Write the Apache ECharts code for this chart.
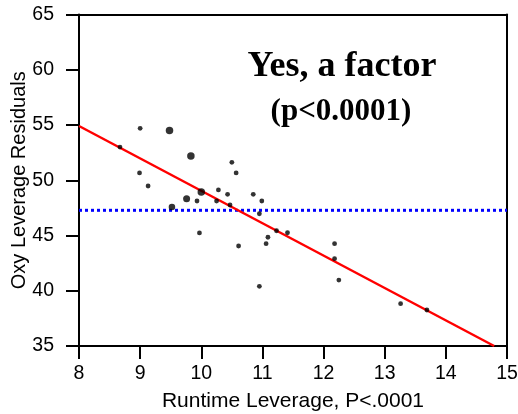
<!DOCTYPE html>
<html>
<head>
<meta charset="utf-8">
<script src="https://cdn.jsdelivr.net/npm/echarts@6/dist/echarts.min.js"></script>
<style>html,body{margin:0;padding:0;background:#fff}#c{width:518px;height:414px}</style>
</head>
<body>
<div id="c"></div>
<script>
const runtimeLev = [8.67,9.0,9.48,9.83,8.99,9.13,10.0,10.28,9.76,9.93,10.25,9.52,9.97,10.50,10.57,10.43,10.47,10.85,10.99,10.95,10.61,11.23,11.41,11.09,11.06,10.95,12.18,12.18,12.25,13.26,13.69];
const oxyLev = [53.0,54.7,54.5,52.2,50.66,49.48,48.94,49.12,48.33,48.12,48.12,47.58,45.23,51.62,50.66,48.73,47.76,48.73,48.12,46.97,44.05,45.43,45.25,44.84,44.26,40.40,44.26,42.90,40.97,38.83,38.26];
const weights = [1,1,3,3,1,1,3,1,2.5,1,1,2,1,1,1,1,1,1,1,1,1,1,1,1,1,1,1,1,1,1,1];
const fitX = [8, 14.79];
const fitY = [54.91, 35];
const meanX = [8, 15];
const meanY = [47.28, 47.28];
const xTicks = [8,9,10,11,12,13,14,15];
const yTicks = [35,40,45,50,55,60,65];
const titleText = "Yes, a factor";
const subText = "(p<0.0001)";

const chart = echarts.init(document.getElementById('c'));
const sizeOf = w => w >= 3 ? 7.5 : (w >= 2.5 ? 7 : (w >= 2 ? 6.5 : 4.8));
const pts = runtimeLev.map((x,i)=>({value:[x, oxyLev[i]], symbolSize: sizeOf(weights[i])}));
const axisFont = {fontFamily:'Liberation Sans, Arial, sans-serif', fontSize:19.5, color:'#000'};
chart.setOption({
  animation:false,
  backgroundColor:'#fff',
  grid:{left:79, right:11, top:14.5, bottom:68, containLabel:false, outerBoundsMode:'none'},
  title:[
    {text:titleText, left:337, top:44, textAlign:'center', textStyle:{fontFamily:'Liberation Serif, Times New Roman, serif', fontWeight:'bold', fontSize:36, color:'#000'}},
    {text:subText, left:336, top:91, textAlign:'center', textStyle:{fontFamily:'Liberation Serif, Times New Roman, serif', fontWeight:'bold', fontSize:31, color:'#000'}}
  ],
  xAxis:[{
    type:'value', min:xTicks[0], max:xTicks[xTicks.length-1], interval:1,
    name:'Runtime Leverage, P<.0001', nameLocation:'middle', nameGap:45,
    nameTextStyle:{fontFamily:'Liberation Sans, Arial, sans-serif', fontSize:21, color:'#000'},
    axisLine:{lineStyle:{color:'#000', width:2}},
    axisTick:{length:13, lineStyle:{color:'#000', width:2}},
    axisLabel:Object.assign({margin:18}, axisFont),
    splitLine:{show:false}
  },{
    type:'value', position:'top', min:8, max:15,
    axisLine:{show:true, lineStyle:{color:'#000', width:2}},
    axisTick:{show:false}, axisLabel:{show:false}, splitLine:{show:false}
  }],
  yAxis:[{
    type:'value', min:yTicks[0], max:yTicks[yTicks.length-1], interval:5,
    name:'Oxy Leverage Residuals', nameLocation:'middle', nameGap:50, nameMoveOverlap:false,
    nameTextStyle:{fontFamily:'Liberation Sans, Arial, sans-serif', fontSize:20, color:'#000'},
    axisLine:{lineStyle:{color:'#000', width:2}},
    axisTick:{length:13, lineStyle:{color:'#000', width:2}},
    axisLabel:Object.assign({margin:25}, axisFont),
    splitLine:{show:false}
  },{
    type:'value', position:'right', min:35, max:65,
    axisLine:{show:true, lineStyle:{color:'#000', width:2}},
    axisTick:{show:false}, axisLabel:{show:false}, splitLine:{show:false}
  }],
  series:[
    {type:'line', data:meanX.map((x,i)=>[x,meanY[i]]), symbol:'none', z:2,
     lineStyle:{color:'#0000ff', width:3, type:[3,3]}},
    {type:'line', data:fitX.map((x,i)=>[x,fitY[i]]), symbol:'none', z:3,
     lineStyle:{color:'#ff0000', width:2.5}},
    {type:'scatter', data:pts, z:4, itemStyle:{color:'#000'}}
  ]
});
</script>
</body>
</html>
